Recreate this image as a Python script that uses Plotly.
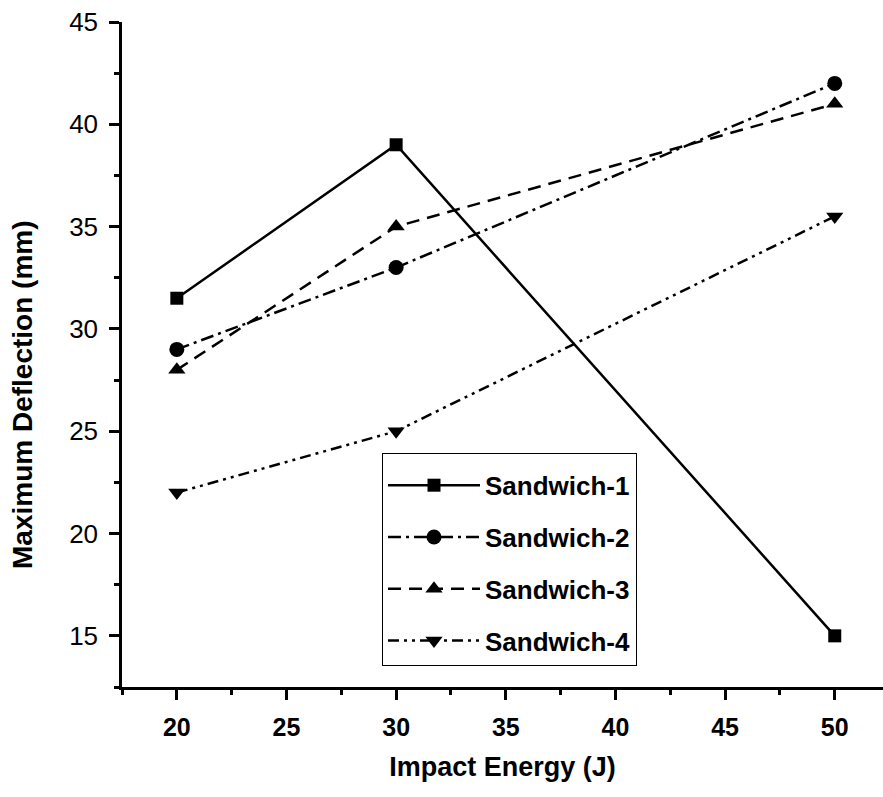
import plotly.graph_objects as go

energy = [20, 30, 50]
sandwich_1 = [31.5, 39, 15]
sandwich_2 = [29, 33, 42]
sandwich_3 = [28, 35, 41]
sandwich_4 = [22, 25, 35.5]

names = ["Sandwich-1", "Sandwich-2", "Sandwich-3", "Sandwich-4"]
series = [sandwich_1, sandwich_2, sandwich_3, sandwich_4]
symbols = ["square", "circle", "triangle-up", "triangle-down"]
marker_sizes = [13, 15, 15, 15]
dashes = ["solid", "13px,5px,3px,5px", "13px,8px", "11px,5px,3px,5px,3px,5px"]

FONT = "Liberation Sans, Arial, sans-serif"

fig = go.Figure()
for i, (nm, ys) in enumerate(zip(names, series)):
    fig.add_trace(go.Scatter(
        x=energy, y=ys, name=nm, mode="lines+markers",
        legendgroup=f"g{i}",
        line=dict(color="black", width=2.5, dash=dashes[i]),
        marker=dict(symbol=symbols[i], size=marker_sizes[i], color="black"),
    ))

L, T, R, B = 122, 22, 0, 110
W, H = 883, 797
plot_w = W - L - R
plot_h = H - T - B

fig.update_layout(
    width=W, height=H,
    margin=dict(l=L, r=R, t=T, b=B, pad=0),
    plot_bgcolor="white", paper_bgcolor="white",
    font=dict(family=FONT, color="black"),
    showlegend=True,
    legend=dict(
        x=(382 - L) / plot_w, y=(H - B - 453) / plot_h,
        xanchor="left", yanchor="top",
        bgcolor="white", bordercolor="black", borderwidth=1,
        font=dict(family=FONT, size=26, color="black", weight="bold"),
        itemwidth=92, tracegroupgap=15,
        traceorder="grouped",
        title=dict(text=" ", font=dict(size=6)),
    ),
    xaxis=dict(
        range=[17.5, 52.2], showgrid=False, zeroline=False,
        showline=True, linecolor="black", linewidth=2.5,
        ticks="outside", ticklen=10, tickwidth=2.5, tickcolor="black",
        tick0=20, dtick=5, ticklabelstandoff=6,
        tickfont=dict(family=FONT, size=25, weight="bold"),
        minor=dict(ticks="outside", ticklen=5, tickwidth=2.5, tickcolor="black",
                   tick0=17.5, dtick=2.5, showgrid=False),
        title=dict(text="Impact Energy (J)", standoff=18,
                   font=dict(family=FONT, size=27, weight="bold")),
    ),
    yaxis=dict(
        range=[12.5, 45], showgrid=False, zeroline=False,
        showline=True, linecolor="black", linewidth=2.5,
        ticks="outside", ticklen=10, tickwidth=2.5, tickcolor="black",
        tick0=15, dtick=5, ticklabelstandoff=6,
        tickfont=dict(family=FONT, size=26),
        minor=dict(ticks="outside", ticklen=5, tickwidth=2.5, tickcolor="black",
                   tick0=12.5, dtick=2.5, showgrid=False),
    ),
    annotations=[dict(
        text="Maximum Deflection (mm)", textangle=-90,
        xref="paper", yref="paper",
        x=(23 - L) / plot_w, y=(H - B - 395) / plot_h,
        xanchor="center", yanchor="middle", showarrow=False,
        font=dict(family=FONT, size=28, weight="bold", color="black"),
    )],
)

fig.write_html("out.html")
